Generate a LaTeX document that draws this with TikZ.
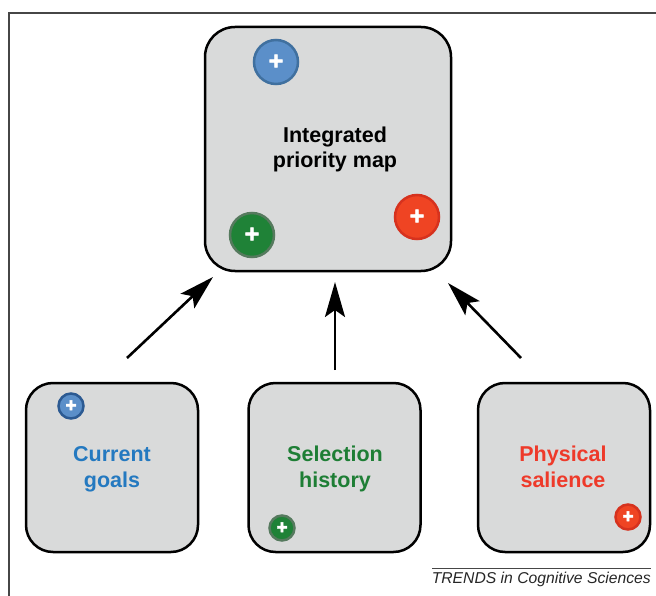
\documentclass[tikz,border=0pt]{standalone}
\usepackage{fontspec}
\setmainfont{Liberation Sans}
\newfontfamily\plusfont{Liberation Sans Bold}[FakeBold=2.5]
\usetikzlibrary{arrows.meta}
\definecolor{boxfill}{RGB}{217,218,218}
\definecolor{bluefill}{RGB}{91,143,201}
\definecolor{blueline}{RGB}{64,112,159}
\definecolor{bluedark}{RGB}{44,90,146}
\definecolor{redfill}{RGB}{239,68,35}
\definecolor{redline}{RGB}{214,50,30}
\definecolor{greenfill}{RGB}{31,130,55}
\definecolor{greenline}{RGB}{86,122,94}
\definecolor{bluetext}{RGB}{36,121,192}
\definecolor{greentext}{RGB}{30,126,53}
\definecolor{redtext}{RGB}{238,58,42}
\definecolor{framegray}{RGB}{70,70,70}
\tikzset{
  mapbox/.style={draw=black, fill=boxfill, line width=2.5pt, rounded corners=30pt,
    minimum width=246pt, minimum height=244pt, inner sep=0pt},
  srcbox/.style={draw=black, fill=boxfill, line width=2.5pt, rounded corners=27pt,
    minimum width=172pt, minimum height=169pt, inner sep=0pt},
  srclabel/.style={align=center, inner sep=0pt, font=\fontsize{21.5}{25.6}\selectfont\bfseries},
  bigdot/.style={circle, line width=2.5pt, minimum size=44pt, inner sep=0pt, text=white,
    font=\fontsize{25}{25}\plusfont},
  smalldot/.style={circle, line width=2.5pt, minimum size=25pt, inner sep=0pt, text=white,
    font=\fontsize{19}{19}\plusfont},
  feed/.style={line width=2.6pt, -{Stealth[length=35pt,width=20pt,inset=7pt]}},
}
\begin{document}
\begin{tikzpicture}[x=1pt,y=-1pt]
\useasboundingbox (0,0) rectangle (656,596);
% frame
\draw[framegray, line width=1.6pt] (9,596) -- (9,13) -- (656,13);
% top box
\node[mapbox] (map) at (328,149) {};
\node[srclabel] (maplabel) at (335,149.5) {Integrated\\priority map};
\node[bigdot, fill=bluefill, draw=blueline] (mb) at (276,62) {+};
\node[bigdot, fill=redfill, draw=redline] (mr) at (417,217) {+};
\node[bigdot, fill=greenfill, draw=greenline] (mg) at (252,235) {+};
% bottom boxes
\node[srcbox] (goals) at (112,467.5) {};
\node[srcbox] (hist) at (334.5,467.5) {};
\node[srcbox] (sal) at (564,467.5) {};
\node[srclabel, text=bluetext] (goalslabel) at (112,469) {Current\\goals};
\node[srclabel, text=greentext] (histlabel) at (335,469) {Selection\\history};
\node[srclabel, text=redtext] (sallabel) at (563,467) {Physical\\salience};
\node[smalldot, fill=bluefill, draw=bluedark] (gb) at (71,406) {+};
\node[smalldot, fill=greenfill, draw=greenline] (hg) at (282,528) {+};
\node[smalldot, fill=redfill, draw=redline] (sr) at (628,517) {+};
% arrows
\coordinate (a1s) at (127,358);
\coordinate (a1e) at (213,277);
\coordinate (a2s) at (335,370);
\coordinate (a2e) at (335,282);
\coordinate (a3s) at (521,358);
\coordinate (a3e) at (448,283);
\draw[feed] (a1s) -- (a1e);
\draw[feed] (a2s) -- (a2e);
\draw[feed] (a3s) -- (a3e);
% credit
\coordinate (cl) at (432,568);
\coordinate (cr) at (651,568);
\draw[framegray, line width=1pt] (cl) -- (cr);
\node[anchor=base east, inner sep=0pt, font=\fontsize{15.7}{18}\selectfont\itshape, text=black!85] (credit) at (651,583) {TRENDS in Cognitive Sciences};
\end{tikzpicture}
\end{document}
